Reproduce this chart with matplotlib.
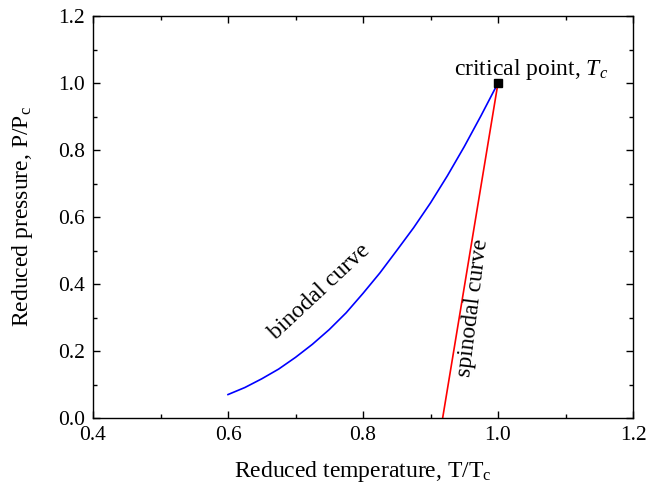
import matplotlib
matplotlib.use("Agg")
import matplotlib.pyplot as plt
from matplotlib.ticker import MultipleLocator

# binodal curve
binodal_T = [0.600, 0.625, 0.650, 0.675, 0.700, 0.725, 0.750, 0.775, 0.800,
             0.825, 0.850, 0.875, 0.900, 0.925, 0.950, 0.975, 1.000]
binodal_P = [0.070, 0.091, 0.117, 0.146, 0.181, 0.220, 0.264, 0.314, 0.372,
             0.433, 0.500, 0.568, 0.642, 0.723, 0.810, 0.903, 1.000]

# spinodal curve (straight line to the critical point)
spinodal_T = [0.918, 1.00]
spinodal_P = [0.0, 1.00]

crit_T = [1.0]
crit_P = [1.0]

plt.rcParams["font.family"] = ["Liberation Serif", "DejaVu Serif"]
plt.rcParams["mathtext.fontset"] = "custom"
plt.rcParams["mathtext.rm"] = "Liberation Serif"
plt.rcParams["mathtext.it"] = "Liberation Serif:italic"

fig = plt.figure(figsize=(6.49, 4.92), dpi=100)
ax = fig.add_axes([93 / 649, 1 - 418 / 492, 540 / 649, 402 / 492])

ax.plot(binodal_T, binodal_P, color="#0000ff", lw=1.2)
ax.plot(spinodal_T, spinodal_P, color="#ff0000", lw=1.2)
ax.plot(crit_T, crit_P, "s", color="black", ms=6, zorder=5)

ax.set_xlim(0.4, 1.2)
ax.set_ylim(0.0, 1.2)
ax.xaxis.set_major_locator(MultipleLocator(0.2))
ax.xaxis.set_minor_locator(MultipleLocator(0.1))
ax.yaxis.set_major_locator(MultipleLocator(0.2))
ax.yaxis.set_minor_locator(MultipleLocator(0.1))
ax.xaxis.set_major_formatter(lambda v, p: f"{v:.1f}")
ax.yaxis.set_major_formatter(lambda v, p: f"{v:.1f}")
ax.tick_params(which="both", direction="in", top=True, right=True, width=1.0)
ax.tick_params(which="major", length=5, labelsize=15.5, pad=6)
ax.tick_params(which="minor", length=3)
for s in ax.spines.values():
    s.set_linewidth(1.0)

ax.set_xlabel(r"Reduced temperature, T/T$_\mathrm{c}$", fontsize=17, labelpad=10)
ax.set_ylabel(r"Reduced pressure, P/P$_\mathrm{c}$", fontsize=17, labelpad=16)

ax.text(1.049, 1.024, r"critical point, $T_c$", fontsize=17, ha="center", va="baseline")
ax.text(0.736, 0.376, "binodal curve", fontsize=17, rotation=43,
        ha="center", va="center", rotation_mode="anchor")
ax.text(0.963, 0.33, "spinodal curve", fontsize=17, rotation=83,
        ha="center", va="center", rotation_mode="anchor")

fig.savefig("out.png", dpi=100)
